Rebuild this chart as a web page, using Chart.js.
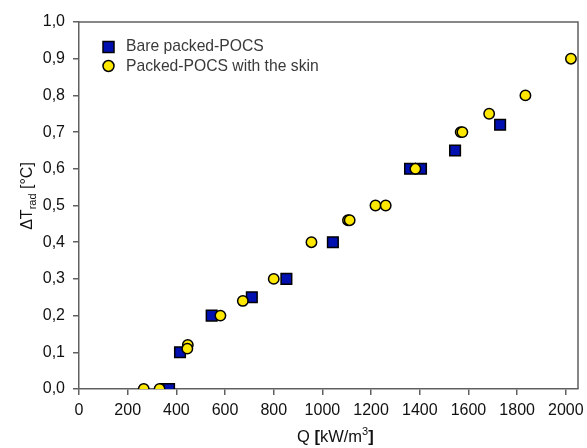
<!DOCTYPE html>
<html>
<head>
<meta charset="utf-8">
<script src="https://cdn.jsdelivr.net/npm/chart.js@4"></script>
<style>
html,body{margin:0;padding:0;background:#fff;}
#c{display:block;}
</style>
</head>
<body>
<canvas id="c" width="587" height="448"></canvas>
<script>
// ---- data ----
const bareQ   = [355, 370, 415, 545, 710, 852, 1043, 1360, 1405, 1545, 1730];
const bareT   = [0, 0, 0.1, 0.2, 0.25, 0.3, 0.4, 0.6, 0.6, 0.65, 0.72];
const skinQ   = [266, 331, 447, 445, 581, 673, 800, 955, 1105, 1112, 1218, 1260, 1382, 1568, 1575, 1685, 1834, 2021];
const skinT   = [0, 0, 0.12, 0.11, 0.2, 0.24, 0.3, 0.4, 0.46, 0.46, 0.5, 0.5, 0.6, 0.7, 0.7, 0.75, 0.8, 0.9];
const xTicks  = [0, 200, 400, 600, 800, 1000, 1200, 1400, 1600, 1800, 2000];
const yTicks  = [0, 0.1, 0.2, 0.3, 0.4, 0.5, 0.6, 0.7, 0.8, 0.9, 1.0];
const seriesNames = ['Bare packed-POCS', 'Packed-POCS with the skin'];

const FONT = '"Liberation Sans", Arial, sans-serif';
const AXIS_COLOR = '#606060';
const BLUE = '#0010b0';
const YELLOW = '#ffe800';

const toPts = (xs, ys) => xs.map((x, i) => ({x: x, y: ys[i]}));

const framePlugin = {
  id: 'frame',
  afterDraw(chart) {
    const ctx = chart.ctx, a = chart.chartArea;
    ctx.save();
    // top and right frame
    ctx.strokeStyle = AXIS_COLOR;
    ctx.lineWidth = 1.5;
    ctx.beginPath();
    ctx.moveTo(a.left, a.top);
    ctx.lineTo(a.right, a.top);
    ctx.lineTo(a.right, a.bottom);
    ctx.stroke();

    // legend
    ctx.strokeStyle = '#000';
    ctx.lineWidth = 1.5;
    ctx.fillStyle = BLUE;
    ctx.fillRect(103, 41.5, 11, 11);
    ctx.strokeRect(103, 41.5, 11, 11);
    ctx.beginPath();
    ctx.fillStyle = YELLOW;
    ctx.arc(108.5, 66, 5.5, 0, Math.PI * 2);
    ctx.fill();
    ctx.stroke();
    ctx.font = '15.7px ' + FONT;
    ctx.fillStyle = '#3a3a3a';
    ctx.textBaseline = 'middle';
    ctx.textAlign = 'left';
    ctx.fillText(seriesNames[0], 126, 47);
    ctx.fillText(seriesNames[1], 126, 66.5);

    // y axis title: ΔT_rad [°C]
    ctx.save();
    ctx.translate(27, 196);
    ctx.rotate(-Math.PI / 2);
    ctx.fillStyle = '#111';
    ctx.textBaseline = 'alphabetic';
    const f1 = '16px ' + FONT, f2 = '11px ' + FONT;
    ctx.font = f1; const wA = ctx.measureText('\u0394T').width;
    ctx.font = f2; const wB = ctx.measureText('rad').width;
    ctx.font = f1; const wC = ctx.measureText(' [\u00b0C]').width;
    let x0 = -(wA + wB + wC) / 2;
    ctx.font = f1; ctx.fillText('\u0394T', x0, 5); x0 += wA;
    ctx.font = f2; ctx.fillText('rad', x0, 9); x0 += wB;
    ctx.font = f1; ctx.fillText(' [\u00b0C]', x0, 5);
    ctx.restore();

    // x axis title: Q [kW/m³]
    ctx.fillStyle = '#111';
    ctx.textBaseline = 'alphabetic';
    const n = '16.5px ' + FONT, b = 'bold 16.5px ' + FONT, s = '11px ' + FONT;
    const parts = [['Q ', n, 0], ['[', b, 0], ['kW/m', n, 0], ['3', s, -7], [']', b, 0]];
    let xx = 297;
    parts.forEach(p => { ctx.font = p[1]; ctx.fillText(p[0], xx, 442 + p[2]); xx += ctx.measureText(p[0]).width; });
    ctx.restore();
  }
};

new Chart(document.getElementById('c'), {
  type: 'scatter',
  data: {
    datasets: [
      {
        label: seriesNames[0],
        data: toPts(bareQ, bareT),
        order: 2,
        pointStyle: 'rect',
        pointRadius: 7.5,
        pointHoverRadius: 7.5,
        backgroundColor: BLUE,
        borderColor: '#000',
        borderWidth: 1.5
      },
      {
        label: seriesNames[1],
        data: toPts(skinQ, skinT),
        order: 1,
        pointStyle: 'circle',
        pointRadius: 5.2,
        pointHoverRadius: 5.2,
        backgroundColor: YELLOW,
        borderColor: '#000',
        borderWidth: 1.5
      }
    ]
  },
  options: {
    responsive: false,
    animation: false,
    devicePixelRatio: 1,
    layout: { padding: { top: 22, right: 9, left: 0, bottom: 0 } },
    plugins: { legend: { display: false }, tooltip: { enabled: false } },
    scales: {
      x: {
        type: 'linear',
        min: 0,
        max: 2050,
        afterBuildTicks: (ax) => { ax.ticks = xTicks.map(v => ({value: v})); },
        afterFit: (ax) => { ax.height = 59; ax.paddingRight = 0; ax.paddingLeft = 0; },
        grid: { display: true, drawOnChartArea: false, drawTicks: true, tickLength: 6, color: AXIS_COLOR, lineWidth: 1.5 },
        border: { display: true, color: AXIS_COLOR, width: 1.5 },
        ticks: { color: '#111', font: { family: FONT, size: 16 }, padding: 6, maxRotation: 0, autoSkip: false,
                 callback: (v) => String(v) }
      },
      y: {
        type: 'linear',
        min: 0,
        max: 1.0,
        afterBuildTicks: (ax) => { ax.ticks = yTicks.map(v => ({value: v})); },
        afterFit: (ax) => { ax.width = 79; ax.paddingTop = 0; ax.paddingBottom = 0; },
        grid: { display: true, drawOnChartArea: false, drawTicks: true, tickLength: 6, color: AXIS_COLOR, lineWidth: 1.5 },
        border: { display: true, color: AXIS_COLOR, width: 1.5 },
        ticks: { color: '#111', font: { family: FONT, size: 16 }, padding: 8, autoSkip: false,
                 callback: (v) => Number(v).toFixed(1).replace('.', ',') }
      }
    }
  },
  plugins: [framePlugin]
});
</script>
</body>
</html>
